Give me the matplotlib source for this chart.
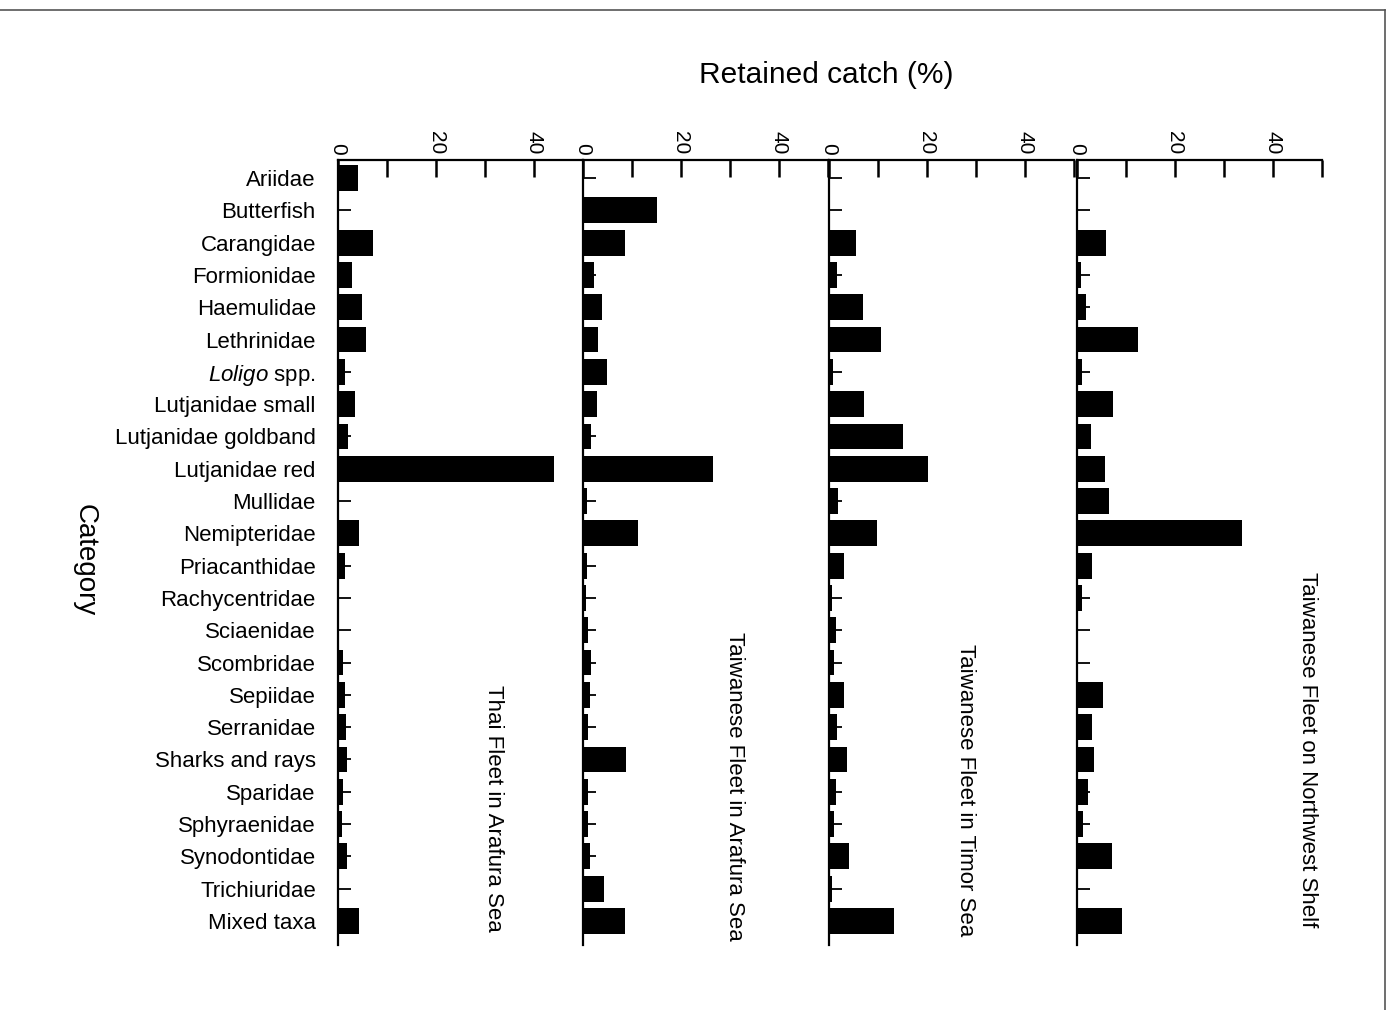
import matplotlib
matplotlib.use("Agg")
import matplotlib.pyplot as plt
from matplotlib.lines import Line2D
import numpy as np

plt.rcParams['font.family'] = ['Liberation Sans', 'DejaVu Sans']
plt.rcParams['mathtext.fontset'] = 'custom'
plt.rcParams['mathtext.rm'] = 'Liberation Sans'
plt.rcParams['mathtext.it'] = 'Liberation Sans:italic'

categories = ["Ariidae", "Butterfish", "Carangidae", "Formionidae", "Haemulidae",
              "Lethrinidae", r"$\it{Loligo}$ spp.", "Lutjanidae small", "Lutjanidae goldband",
              "Lutjanidae red", "Mullidae", "Nemipteridae", "Priacanthidae",
              "Rachycentridae", "Sciaenidae", "Scombridae", "Sepiidae", "Serranidae",
              "Sharks and rays", "Sparidae", "Sphyraenidae", "Synodontidae",
              "Trichiuridae", "Mixed taxa"]

thai_arafura = [4.0, 0.0, 7.1, 2.9, 4.8, 5.7, 1.4, 3.5, 2.1, 44.0, 0.0, 4.2,
                1.4, 0.0, 0.0, 1.1, 1.4, 1.6, 1.9, 1.0, 0.8, 1.9, 0.0, 4.3]
taiwan_arafura = [0.0, 15.1, 8.6, 2.2, 3.9, 3.1, 4.9, 2.9, 1.6, 26.6, 0.8, 11.2,
                  0.8, 0.6, 1.1, 1.6, 1.5, 1.0, 8.8, 1.0, 1.1, 1.5, 4.2, 8.6]
taiwan_timor = [0.0, 0.0, 5.6, 1.7, 6.9, 10.7, 0.9, 7.1, 15.2, 20.3, 1.8, 9.8,
                3.1, 0.7, 1.4, 1.0, 3.1, 1.7, 3.6, 1.5, 1.0, 4.0, 0.7, 13.3]
taiwan_nwshelf = [0.0, 0.0, 6.0, 0.9, 1.8, 12.4, 1.0, 7.3, 2.9, 5.8, 6.5, 33.6,
                  3.1, 1.0, 0.0, 0.0, 5.4, 3.1, 3.4, 2.2, 1.3, 7.1, 0.0, 9.2]

series = [thai_arafura, taiwan_arafura, taiwan_timor, taiwan_nwshelf]
panel_titles = ["Thai Fleet in Arafura Sea", "Taiwanese Fleet in Arafura Sea",
                "Taiwanese Fleet in Timor Sea", "Taiwanese Fleet on Northwest Shelf"]
x_ticks = [0, 10, 20, 30, 40, 50]
x_ticklabels = ["0", "", "20", "", "40", ""]

W, H = 1393, 1010
fig = plt.figure(figsize=(W / 100, H / 100), dpi=100)

lefts = [338, 583, 829, 1077]
pw = 245
top, bottom = 160, 945
title_pos = [(493, 808), (735, 786), (965, 790), (1307, 750)]

y = np.arange(len(categories))
first_c, last_c = 178, 921
step = (last_c - first_c) / (len(categories) - 1)
ytop = -(first_c - top) / step
ybot = (bottom - first_c) / step

for k, (vals, ttl) in enumerate(zip(series, panel_titles)):
    ax = fig.add_axes([lefts[k] / W, 1 - bottom / H, pw / W, (bottom - top) / H])
    ax.barh(y, vals, height=0.8, color='black')
    ax.set_xlim(0, 50)
    ax.set_ylim(ybot, ytop)
    ax.xaxis.tick_top()
    ax.set_xticks(x_ticks)
    ax.set_xticklabels(x_ticklabels, rotation=-90, fontsize=15)
    ax.tick_params(axis='x', direction='in', length=12, width=1.8, pad=4)
    ax.set_yticks(y)
    if k == 0:
        ax.set_yticklabels(categories, fontsize=16)
        ax.tick_params(axis='y', direction='in', length=9, width=1.3, pad=16)
    else:
        ax.set_yticklabels([])
        ax.tick_params(axis='y', direction='in', length=9, width=1.3)
    for s in ['right', 'bottom']:
        ax.spines[s].set_visible(False)
    ax.spines['top'].set_linewidth(1.6)
    ax.spines['left'].set_linewidth(1.6)
    fig.text(title_pos[k][0] / W, 1 - title_pos[k][1] / H, ttl, rotation=-90,
             ha='center', va='center', fontsize=16)

fig.text(826 / W, 1 - 75 / H, "Retained catch (%)", ha='center', va='center', fontsize=21.5)
fig.text(85 / W, 1 - 560 / H, "Category", rotation=-90, ha='center', va='center', fontsize=20)

# scan border lines
fig.add_artist(Line2D([0, 1385 / W], [1 - 10 / H, 1 - 10 / H], color='#555555', lw=1.2))
fig.add_artist(Line2D([1385 / W, 1385 / W], [1 - 10 / H, 0], color='#555555', lw=1.2))

fig.savefig("out.png", dpi=100)
